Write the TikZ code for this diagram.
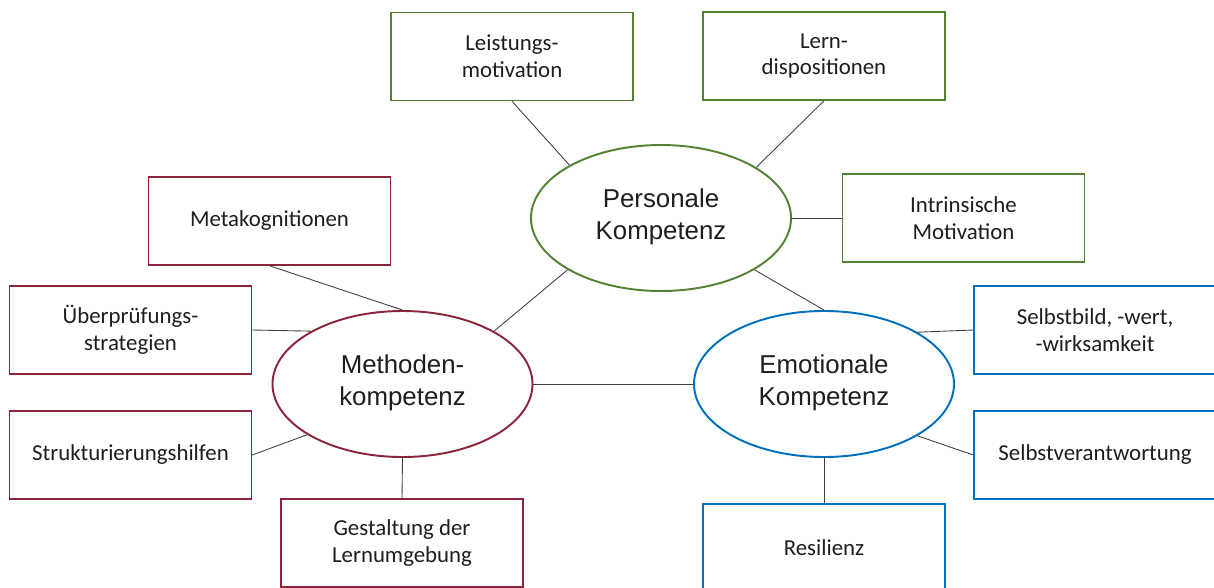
\documentclass[tikz,border=0pt]{standalone}
\usepackage{fontspec}
\setmainfont{Carlito}
\newfontfamily\arialfont{Liberation Sans}
\usepackage{tikz}
\usetikzlibrary{shapes.geometric}
\definecolor{kgreen}{RGB}{84,130,53}
\definecolor{kred}{RGB}{140,36,62}
\definecolor{kblue}{RGB}{0,112,192}
\definecolor{ktext}{RGB}{30,30,30}
\definecolor{kline}{RGB}{64,64,64}
\begin{document}
\begin{tikzpicture}[
                        kbox/.style={draw=#1,line width=0.85pt,fill=white,minimum width=4.84cm,minimum height=1.76cm,inner sep=0pt,align=center,text=ktext,font=\fontsize{13}{15.3}\selectfont},
                        kompetenz/.style={ellipse,draw=#1,line width=1.1pt,fill=white,minimum width=5.2cm,minimum height=2.92cm,inner sep=0pt,text depth=0.9ex,align=center,text=ktext,font=\arialfont\fontsize{14.7}{18.5}\selectfont},
                        link/.style={kline,line width=0.5pt}]
                        \useasboundingbox[clip] (0,0) rectangle (24.28,-11.74);

                        \node[kompetenz=kgreen] (pers) at (13.22,-4.36) {Personale\\Kompetenz};
                        \node[kompetenz=kred] (meth) at (8.05,-7.68) {Methoden-\\kompetenz};
                        \node[kompetenz=kblue] (emot) at (16.48,-7.68) {Emotionale\\Kompetenz};

                        \node[kbox=kgreen] (leist) at (10.24,-1.13) {Leistungs-\\motivation};
                        \node[kbox=kgreen] (lern) at (16.48,-1.12) {Lern-\\dispositionen};
                        \node[kbox=kgreen] (intr) at (19.27,-4.36) {Intrinsische\\Motivation};

                        \node[kbox=kred] (meta) at (5.39,-4.42) {Metakognitionen};
                        \node[kbox=kred] (uebr) at (2.61,-6.60) {Überprüfungs-\\strategien};
                        \node[kbox=kred] (strk) at (2.61,-9.10) {Strukturierungshilfen};
                        \node[kbox=kred] (gest) at (8.04,-10.86) {Gestaltung der\\Lernumgebung};

                        \node[kbox=kblue] (selbst) at (21.90,-6.60) {Selbstbild, -wert,\\-wirksamkeit};
                        \node[kbox=kblue] (selbv) at (21.90,-9.10) {Selbstverantwortung};
                        \node[kbox=kblue] (resil) at (16.48,-10.96) {Resilienz};

                        \draw[link] (leist.south) -- (pers.150.5);
                        \draw[link] (lern.south) -- (pers.28.7);
                        \draw[link] (intr.west) -- (pers.east);
                        \draw[link] (pers.331.3) -- (emot.north);
                        \draw[link] (pers.209.7) -- (meth.30);
                        \draw[link] (meth.east) -- (emot.west);

                        \draw[link] (meta.south) -- (meth.north);
                        \draw[link] (uebr.east) -- (meth.150.7);
                        \draw[link] (strk.east) -- (meth.208.6);
                        \draw[link] (gest.north) -- (meth.south);

                        \draw[link] (selbst.west) -- (emot.29);
                        \draw[link] (selbv.west) -- (emot.331.5);
                        \draw[link] (resil.north) -- (emot.south);
                    \end{tikzpicture}
\end{document}
